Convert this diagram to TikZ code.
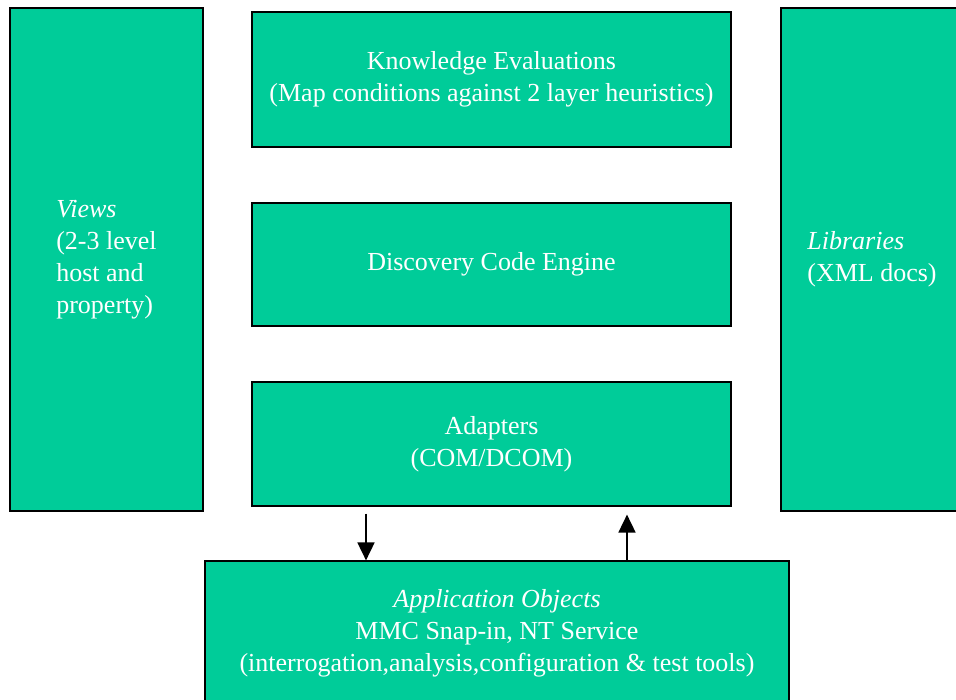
\documentclass[tikz,border=0pt]{standalone}
\usepackage{fontspec}
\setmainfont{Liberation Serif}
\usetikzlibrary{arrows.meta}
\definecolor{layergreen}{RGB}{0,204,153}
\tikzset{
  layer/.style={draw=black, line width=1.2pt, fill=layergreen, text=white,
    align=center, inner sep=0pt, font=\fontsize{26}{32}\selectfont},
  flow/.style={-{Triangle[width=17pt,length=18pt]}, line width=1.8pt}
}

\begin{document}
\begin{tikzpicture}[x=1pt,y=-1pt]
  \useasboundingbox (0,0) rectangle (956,700);
  \clip (0,0) rectangle (956,700);

  % side columns
  \node[layer, align=left, minimum width=193pt, minimum height=503pt] (views) at (106.5,259.5)
    {\textit{Views}\\(2-3 level\\host and\\property)};
  \node[layer, align=left, minimum width=182pt, minimum height=503pt] (libs) at (872,259.5)
    {\textit{Libraries}\\(XML docs)};

  % middle stack
  \node[layer, minimum width=479pt, minimum height=135pt] (know) at (491.5,79.5)
    {Knowledge Evaluations\\(Map conditions against 2 layer heuristics)};
  \node[layer, minimum width=479pt, minimum height=123pt] (engine) at (491.5,264.5)
    {Discovery Code Engine};
  \node[layer, minimum width=479pt, minimum height=124pt] (adapt) at (491.5,444)
    {Adapters\\(COM/DCOM)};

  % bottom
  \node[layer, minimum width=584pt, minimum height=144pt] (appobj) at (497,633)
    {\textit{Application Objects}\\MMC Snap-in, NT Service\\(interrogation,analysis,configuration \& test tools)};

  \coordinate (down) at (366,0);
  \coordinate (up) at (627,0);
  \draw[flow, shorten <=7pt] (adapt.south -| down) -- (appobj.north -| down);
  \draw[flow, shorten >=8pt] (appobj.north -| up) -- (adapt.south -| up);

\end{tikzpicture}
\end{document}
